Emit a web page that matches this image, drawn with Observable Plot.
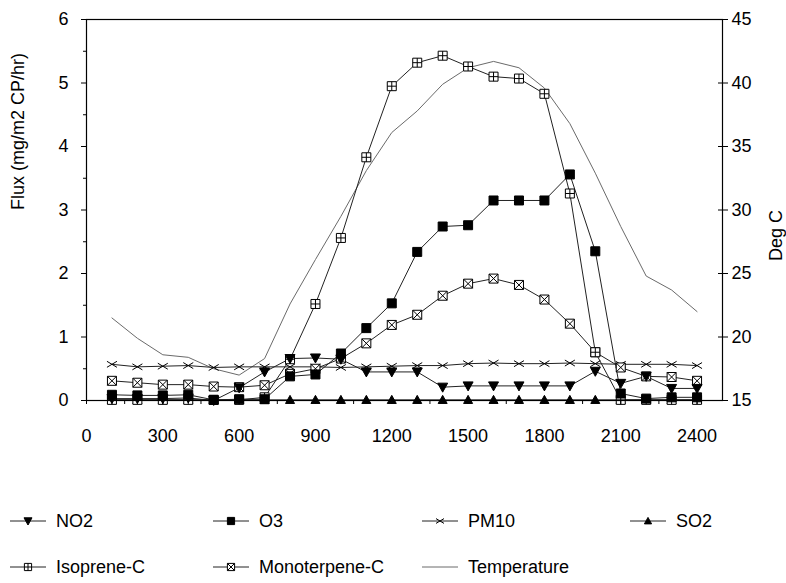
<!DOCTYPE html>
<html><head><meta charset="utf-8">
<script src="https://cdn.jsdelivr.net/npm/d3@7"></script>
<script src="https://cdn.jsdelivr.net/npm/@observablehq/plot@0.6"></script>
<style>
body{margin:0;background:#fff;font-family:"Liberation Sans",Arial,sans-serif;}
#wrap{position:relative;width:786px;height:583px;overflow:hidden;}
.leg{position:absolute;display:flex;align-items:center;font-size:18px;color:#000;height:24px;}
.leg svg{margin-right:8px;}
</style></head><body><div id="wrap"></div>
<script>
// ---- data ----
const hours = [100,200,300,400,500,600,700,800,900,1000,1100,1200,1300,1400,1500,1600,1700,1800,1900,2000,2100,2200,2300,2400];
const no2 = [0.03,0.03,0.03,0.04,0.00,0.20,0.45,0.66,0.67,0.65,0.45,0.45,0.45,0.21,0.23,0.23,0.23,0.23,0.23,0.46,0.27,0.38,0.19,0.19];
const o3 = [0.09,0.08,0.08,0.09,0.01,0.02,0.02,0.38,0.41,0.74,1.14,1.53,2.34,2.74,2.76,3.15,3.15,3.15,3.56,2.35,0.11,0.03,0.05,0.05];
const pm10 = [0.57,0.53,0.54,0.55,0.52,0.53,0.53,0.53,0.53,0.52,0.53,0.54,0.55,0.55,0.58,0.59,0.58,0.58,0.59,0.58,0.57,0.57,0.57,0.55];
const so2 = [0.01,0.01,0.01,0.01,0.01,0.01,0.01,0.01,0.01,0.01,0.01,0.01,0.01,0.01,0.01,0.01,0.01,0.01,0.01,0.01,0.01,0.01,0.01,0.01];
const isoprene = [0.01,0.01,0.01,0.01,0.01,0.01,0.05,0.65,1.52,2.56,3.83,4.95,5.32,5.43,5.26,5.10,5.07,4.83,3.26,0.76,0.01,0.01,0.01,0.01];
const monoterpene = [0.31,0.28,0.25,0.25,0.22,0.21,0.24,0.42,0.50,0.66,0.90,1.19,1.35,1.65,1.84,1.92,1.82,1.59,1.21,0.76,0.52,0.38,0.37,0.31];
const temperature = [21.5,19.9,18.6,18.4,17.5,17.0,18.3,22.6,26.1,29.5,33.1,36.1,37.8,39.9,41.2,41.7,41.2,39.6,36.8,32.9,28.7,24.8,23.7,22.0];

const xTicks = [0,300,600,900,1200,1500,1800,2100,2400];
const xMinorTicks = [0,150,300,450,600,750,900,1050,1200,1350,1500,1650,1800,1950,2100,2250,2400];
const yTicks = [0,1,2,3,4,5,6];
const yMinorTicks = [0.5,1.5,2.5,3.5,4.5,5.5];
const tempTicks = [15,20,25,30,35,40,45];
const tempMin = 15, tempPerFlux = 5;

const seriesNames = ["NO2","O3","PM10","SO2","Isoprene-C","Monoterpene-C","Temperature"];

// ---- custom symbols ----
const sq = {draw(c,s){const h=Math.sqrt(s)/2;c.moveTo(-h,-h);c.lineTo(h,-h);c.lineTo(h,h);c.lineTo(-h,h);c.closePath();}};
const boxPlus = {draw(c,s){const h=Math.sqrt(s)/2;c.moveTo(-h,-h);c.lineTo(h,-h);c.lineTo(h,h);c.lineTo(-h,h);c.closePath();c.moveTo(0,-h);c.lineTo(0,h);c.moveTo(-h,0);c.lineTo(h,0);}};
const boxTimes = {draw(c,s){const h=Math.sqrt(s)/2;c.moveTo(-h,-h);c.lineTo(h,-h);c.lineTo(h,h);c.lineTo(-h,h);c.closePath();c.moveTo(-h,-h);c.lineTo(h,h);c.moveTo(-h,h);c.lineTo(h,-h);}};
const cross = {draw(c,s){const h=Math.sqrt(s)/2;c.moveTo(-h,-h*0.6);c.lineTo(h,h*0.6);c.moveTo(-h,h*0.6);c.lineTo(h,-h*0.6);}};
const triDown = {draw(c,s){const w=Math.sqrt(s);c.moveTo(-w/2,-w*0.4);c.lineTo(w/2,-w*0.4);c.lineTo(0,w*0.5);c.closePath();}};
const triUp = {draw(c,s){const w=Math.sqrt(s);c.moveTo(-w/2,w*0.4);c.lineTo(w/2,w*0.4);c.lineTo(0,-w*0.5);c.closePath();}};
const rOf = side => side/Math.sqrt(Math.PI);

const styles = {
  "NO2": {sym: triDown, side: 10, fill: "#000", stroke: "#000"},
  "O3": {sym: sq, side: 9, fill: "#000", stroke: "#000"},
  "PM10": {sym: cross, side: 10, fill: "none", stroke: "#000"},
  "SO2": {sym: triUp, side: 9, fill: "#000", stroke: "#000"},
  "Isoprene-C": {sym: boxPlus, side: 9, fill: "#fff", stroke: "#000"},
  "Monoterpene-C": {sym: boxTimes, side: 9, fill: "#fff", stroke: "#000"}
};
const fluxSeries = {"NO2": no2, "O3": o3, "PM10": pm10, "SO2": so2, "Isoprene-C": isoprene, "Monoterpene-C": monoterpene};
const rows = name => hours.map((h,i) => ({hour: h, value: fluxSeries[name][i]}));
const tempRows = hours.map((h,i) => ({hour: h, t: temperature[i]}));

const drawOrder = ["SO2","PM10","Monoterpene-C","Isoprene-C","NO2","O3"];
const marks = [];
marks.push(Plot.line(tempRows, {x: "hour", y: d => (d.t - tempMin)/tempPerFlux, stroke: "#6a6a6a", strokeWidth: 1}));
for (const n of drawOrder) marks.push(Plot.line(rows(n), {x: "hour", y: "value", stroke: "#222", strokeWidth: 1}));
for (const n of drawOrder) {
  const s = styles[n];
  marks.push(Plot.dot(rows(n), {x: "hour", y: "value", symbol: s.sym, r: rOf(s.side), fill: s.fill, stroke: s.stroke, strokeWidth: 1}));
}
const fmt = d3.format("d");

const chart = Plot.plot({
  width: 786, height: 450,
  marginLeft: 86, marginRight: 64, marginTop: 19, marginBottom: 50,
  style: {fontFamily: "'Liberation Sans', Arial, sans-serif", fontSize: "18px", color: "#000", background: "#fff", overflow: "visible"},
  x: {domain: [0, 2500]},
  y: {domain: [0, 6]},
  marks: [
    ...marks,
    Plot.frame({stroke: "#000", strokeWidth: 1.2}),
    Plot.axisX(xTicks, {tickSize: 0, tickPadding: 29, tickFormat: fmt, label: null, fontSize: 18}),
    Plot.axisX(xMinorTicks, {tickSize: 4, tickFormat: () => "", label: null, stroke: "#000"}),
    Plot.axisY(yTicks, {anchor: "left", tickSize: 5, tickPadding: 13, tickFormat: fmt, label: null, fontSize: 18, stroke: "#000"}),
    Plot.axisY(yMinorTicks, {anchor: "left", tickSize: 3, tickFormat: () => "", label: null, stroke: "#000"}),
    Plot.axisY(tempTicks.map(t => (t - tempMin)/tempPerFlux), {anchor: "right", tickSize: 10, insetRight: 5, tickPadding: 4, tickFormat: d => fmt(d*tempPerFlux + tempMin), label: null, fontSize: 18, stroke: "#000"}),
    Plot.text(["Flux (mg/m2 CP/hr)"], {frameAnchor: "left", dx: -68, rotate: -90, fontSize: 18}),
    Plot.text(["Deg C"], {frameAnchor: "right", dx: 54, rotate: -90, fontSize: 18})
  ]
});
const wrap = document.getElementById("wrap");
chart.style.position = "absolute"; chart.style.left = "0px"; chart.style.top = "0px";
wrap.appendChild(chart);

// ---- legend (below the plot) ----
const legendCols = [10, 213, 422, 630];
const legendRowsY = [509, 555];
seriesNames.forEach((n, i) => {
  const row = Math.floor(i/4), col = i % 4;
  const div = document.createElement("div");
  div.className = "leg";
  div.style.left = legendCols[col] + "px";
  div.style.top = legendRowsY[row] + "px";
  const svg = d3.create("svg").attr("width", 38).attr("height", 24);
  const isTemp = n === "Temperature";
  svg.append("line").attr("x1", 0).attr("x2", 36).attr("y1", 12).attr("y2", 12)
     .attr("stroke", isTemp ? "#6a6a6a" : "#222").attr("stroke-width", 1);
  if (!isTemp) {
    const s = styles[n];
    const side = s.side*0.8;
    svg.append("path").attr("transform", "translate(18,12)")
      .attr("d", d3.symbol(s.sym, side*side)())
      .attr("fill", s.fill).attr("stroke", s.stroke);
  }
  div.appendChild(svg.node());
  const span = document.createElement("span");
  span.textContent = n;
  div.appendChild(span);
  wrap.appendChild(div);
});
</script>
</body></html>
